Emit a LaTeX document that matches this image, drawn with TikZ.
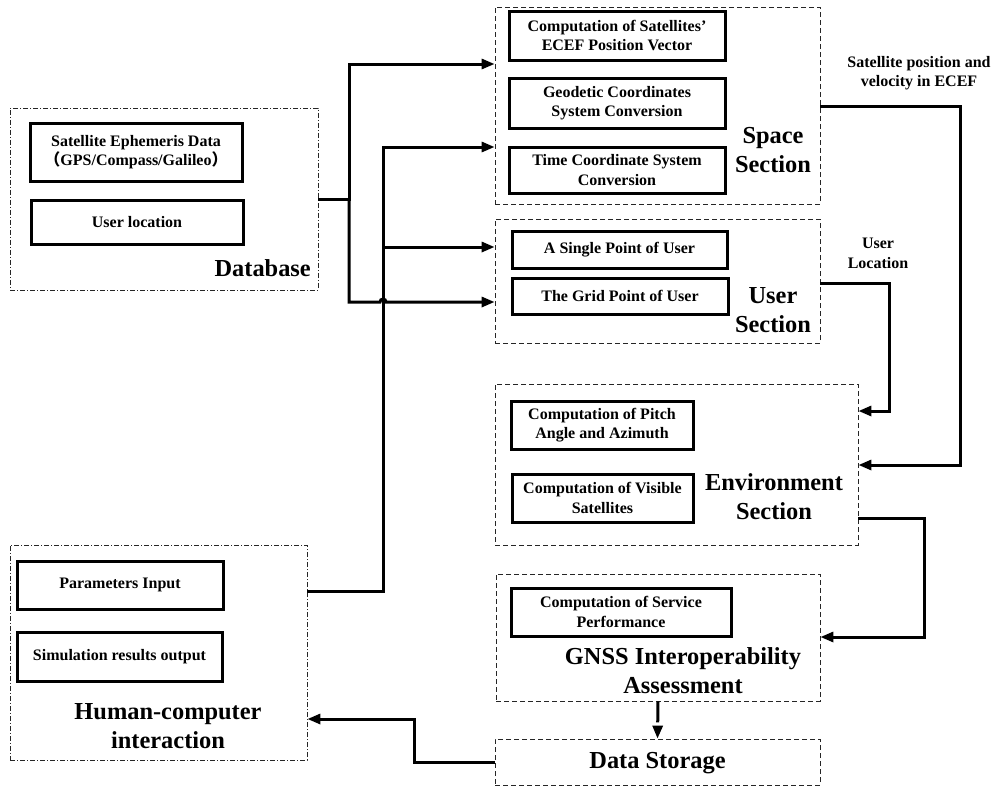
\documentclass[tikz,border=0pt]{standalone}
\usepackage{fontspec}
\setmainfont{Liberation Serif}
\newfontfamily\cjkfont{Noto Sans CJK SC}
\usetikzlibrary{arrows.meta}
\begin{document}
\begin{tikzpicture}[x=1pt,y=-1pt,
 inbox/.style={draw,line width=3pt,inner sep=0pt,align=center,font=\fontsize{16}{19.5}\selectfont\bfseries},
 outer/.style={draw=black!85,line width=0.8pt,dash pattern=on 5pt off 3pt,inner sep=0pt},
 outerdd/.style={draw=black!85,line width=0.8pt,dash pattern=on 5pt off 2pt on 1pt off 2pt,inner sep=0pt},
 big/.style={font=\fontsize{24.4}{29}\selectfont\bfseries,align=center,inner sep=0pt},
 small/.style={font=\fontsize{16}{19.5}\selectfont\bfseries,align=center,inner sep=0pt},
 conn/.style={line width=3pt},
 arr/.style={conn,-{Triangle[length=13pt,width=10pt]}},
]
\useasboundingbox (0,0) rectangle (995,788);

% Database
\node[outerdd,minimum width=308pt,minimum height=182pt] (db) at (164,199) {};
\node[inbox,minimum width=212pt,minimum height=58pt] (eph) at (136,152) {Satellite Ephemeris Data\\{\cjkfont （}GPS/Compass/Galileo{\cjkfont ）}};
\node[inbox,minimum width=212pt,minimum height=44pt] (uloc) at (137,222) {User location};
\node[big,anchor=east] (dbl) at (311,268) {Database};

% Space section
\node[outer,minimum width=325pt,minimum height=197pt] (sp) at (657.5,105.5) {};
\node[inbox,minimum width=216pt,minimum height=49pt] (s1) at (617,35.5) {Computation of Satellites’\\ECEF Position Vector};
\node[inbox,minimum width=216pt,minimum height=50pt] (s2) at (617,103) {Geodetic Coordinates\\System Conversion};
\node[inbox,minimum width=216pt,minimum height=46pt] (s3) at (617,170) {Time Coordinate System\\Conversion};
\node[big] (spl) at (773,150) {Space\\Section};

% User section
\node[outer,minimum width=325pt,minimum height=124pt] (us) at (657.5,281) {};
\node[inbox,minimum width=215pt,minimum height=37pt] (u1) at (619.5,249.5) {A Single Point of User};
\node[inbox,minimum width=216pt,minimum height=36pt] (u2) at (620,296) {The Grid Point of User};
\node[big] (usl) at (773,310) {User\\Section};

% Environment section
\node[outer,minimum width=363pt,minimum height=161pt] (env) at (676.5,464.5) {};
\node[inbox,minimum width=182pt,minimum height=48pt] (e1) at (602,425) {Computation of Pitch\\Angle and Azimuth};
\node[inbox,minimum width=181pt,minimum height=48pt] (e2) at (602.5,498) {Computation of Visible\\Satellites};
\node[big] (envl) at (774,497) {Environment\\Section};

% GNSS
\node[outer,minimum width=324pt,minimum height=127pt] (gn) at (658,637.5) {};
\node[inbox,minimum width=220pt,minimum height=48pt] (g1) at (621,612) {Computation of Service\\Performance};
\node[big] (gnl) at (683,670.5) {GNSS Interoperability\\Assessment};

% Data storage
\node[outer,minimum width=325pt,minimum height=46pt] (ds) at (657.5,762) {};
\node[big] (dsl) at (657.5,763) {Data Storage};

% Human-computer
\node[outerdd,minimum width=297pt,minimum height=215pt] (hc) at (158.5,652.5) {};
\node[inbox,minimum width=206pt,minimum height=48pt] (h1) at (120,585) {Parameters Input};
\node[inbox,minimum width=205pt,minimum height=49pt] (h2) at (119.5,656.5) {Simulation results output};
\node[big] (hcl) at (168,726) {Human-computer\\interaction};

% labels
\node[small] (lab1) at (919,73) {Satellite position and\\velocity in ECEF};
\node[small] (lab2) at (878,253.5) {User\\Location};

% connectors from database
\coordinate (j1) at (349,199);
\draw[arr] (db.east) -- (j1) -- (349,64) -- (sp.west |- 0,64);
\draw[arr] (j1) -- (349,302) -- (380,302) arc[start angle=180,end angle=0,radius=3pt] -- (us.west |- 0,302);

% connectors from human-computer
\draw[arr] (hc.east |- 0,591) -- (383,591) -- (383,147) -- (sp.west |- 0,147);
\draw[arr] (383,247) -- (us.west |- 0,247);

% space -> environment
\draw[arr] (sp.east |- 0,106) -- (960,106) -- (960,465) -- (env.east |- 0,465);
% user -> environment
\draw[arr] (us.east |- 0,283) -- (889,283) -- (889,411) -- (env.east |- 0,411);
% environment -> gnss
\draw[arr] (env.east |- 0,518) -- (924,518) -- (924,637) -- (gn.east |- 0,637);
% gnss -> storage
\draw[conn,dash pattern=on 21pt off 5pt,-{Triangle[length=13pt,width=10pt]}] (gn.south) -- (ds.north);
% storage -> human
\draw[arr] (ds.west) -- (414,762) -- (414,719) -- (hc.east |- 0,719);
\end{tikzpicture}
\end{document}
